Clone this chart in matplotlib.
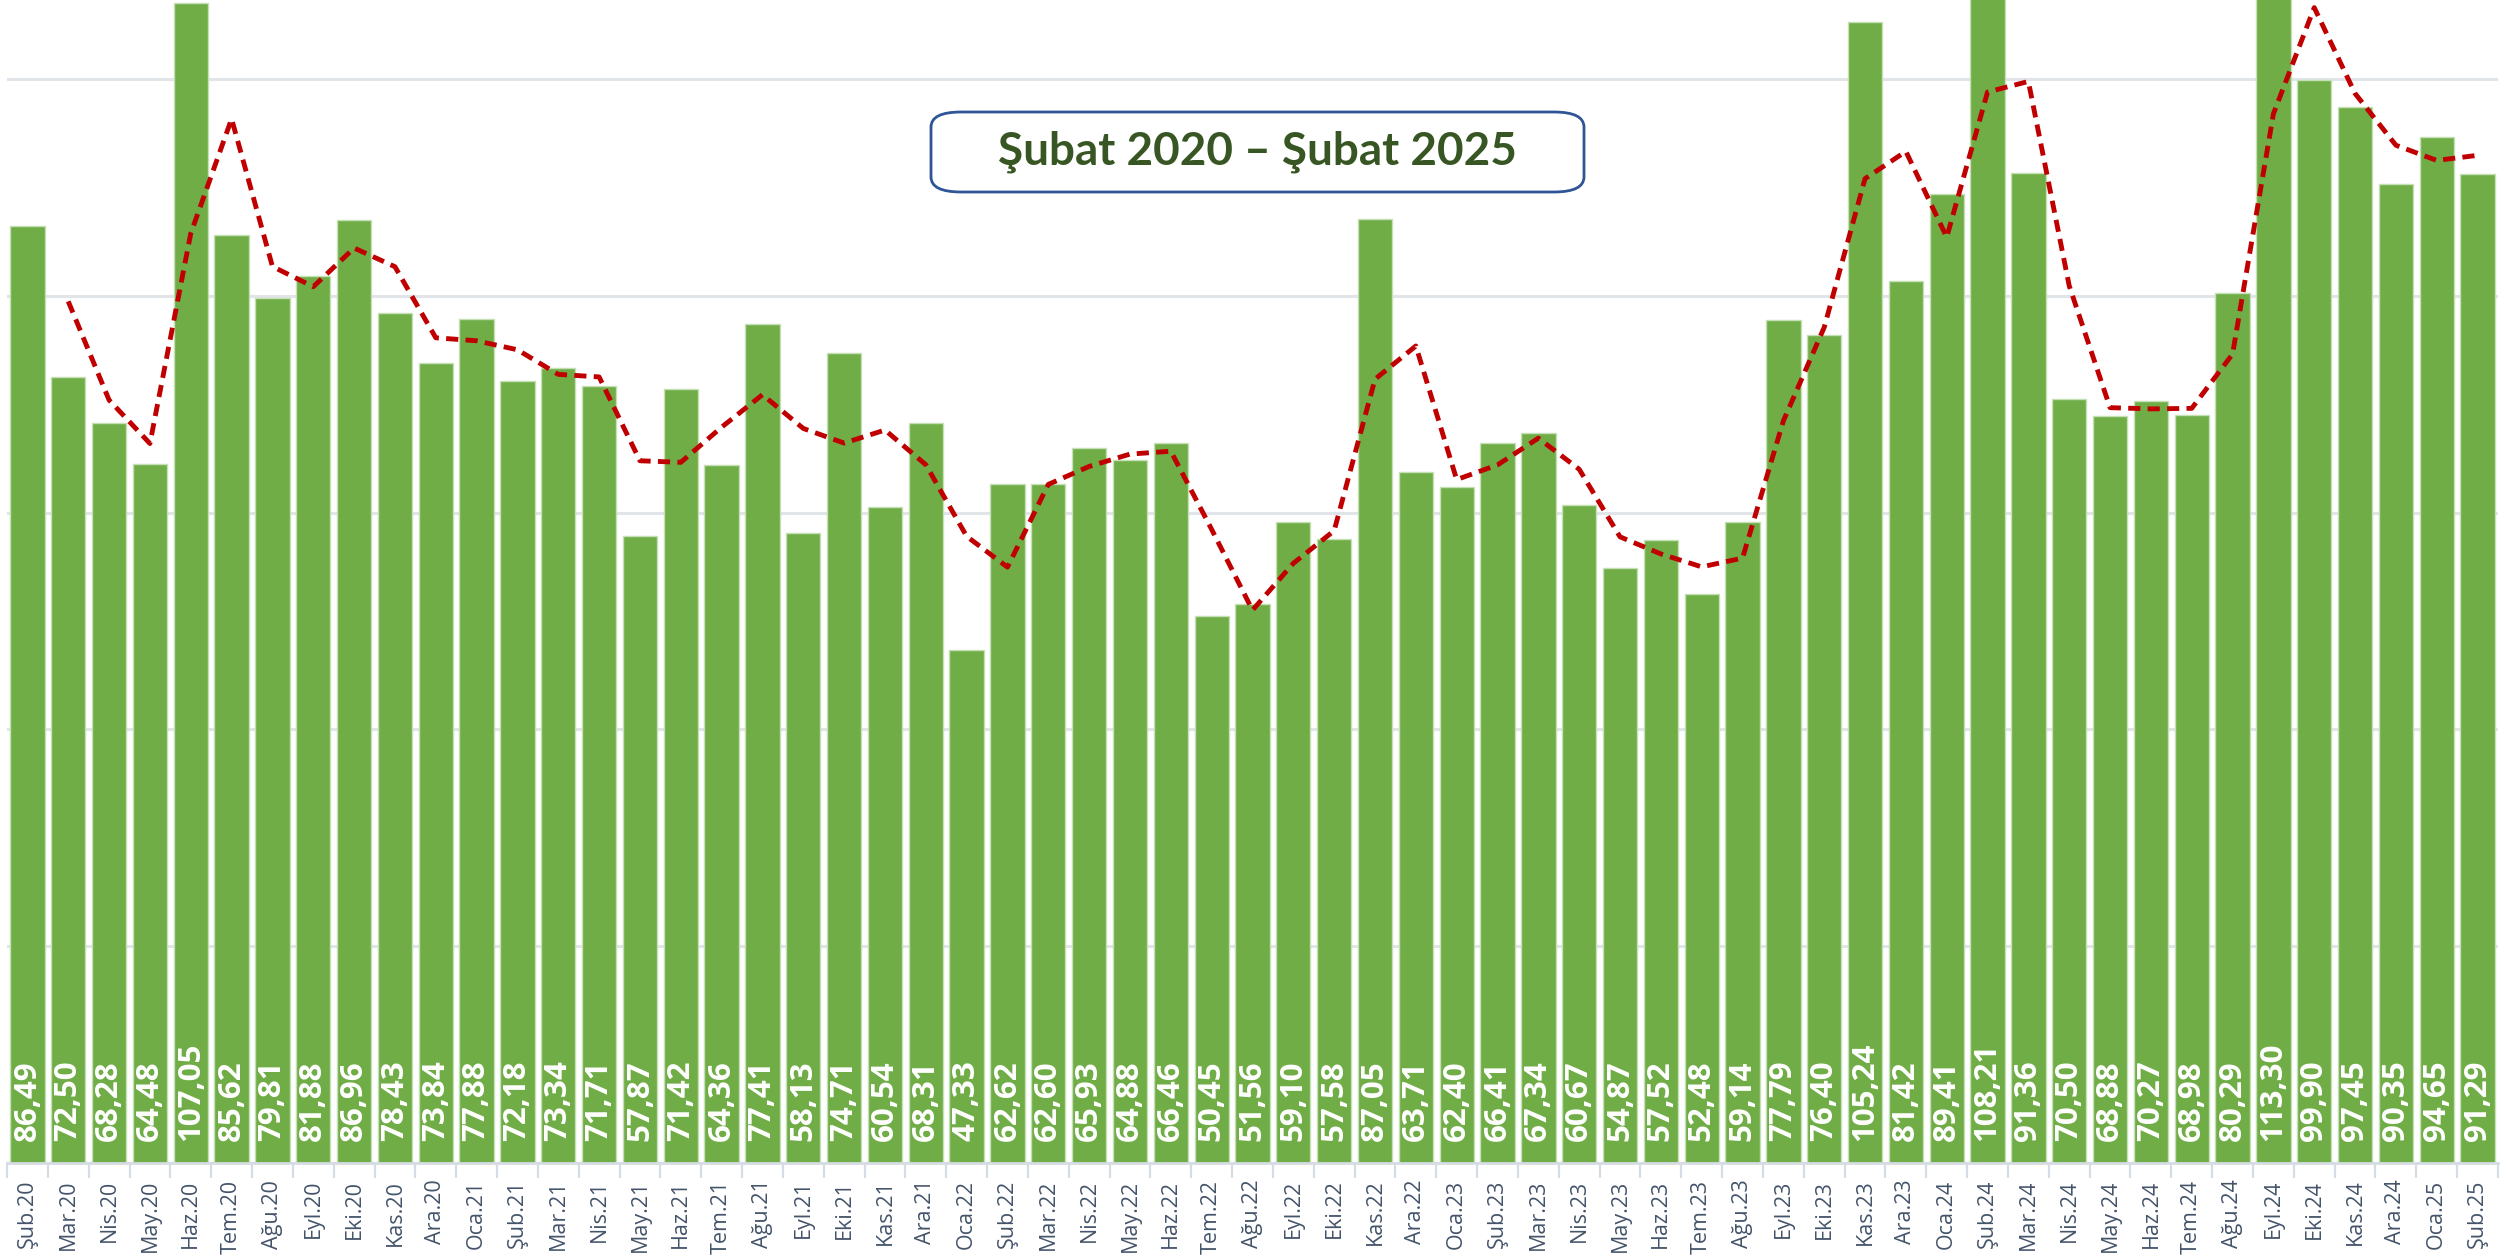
import numpy as np
import pandas as pd
import matplotlib.pyplot as plt
from matplotlib.patches import FancyBboxPatch

months = ["Şub.20", "Mar.20", "Nis.20", "May.20", "Haz.20", "Tem.20", "Ağu.20", "Eyl.20", "Eki.20", "Kas.20", "Ara.20",
          "Oca.21", "Şub.21", "Mar.21", "Nis.21", "May.21", "Haz.21", "Tem.21", "Ağu.21", "Eyl.21", "Eki.21", "Kas.21", "Ara.21",
          "Oca.22", "Şub.22", "Mar.22", "Nis.22", "May.22", "Haz.22", "Tem.22", "Ağu.22", "Eyl.22", "Eki.22", "Kas.22", "Ara.22",
          "Oca.23", "Şub.23", "Mar.23", "Nis.23", "May.23", "Haz.23", "Tem.23", "Ağu.23", "Eyl.23", "Eki.23", "Kas.23", "Ara.23",
          "Oca.24", "Şub.24", "Mar.24", "Nis.24", "May.24", "Haz.24", "Tem.24", "Ağu.24", "Eyl.24", "Eki.24", "Kas.24", "Ara.24",
          "Oca.25", "Şub.25"]
values = [86.49, 72.50, 68.28, 64.48, 107.05, 85.62, 79.81, 81.88, 86.96, 78.43, 73.84,
          77.88, 72.18, 73.34, 71.71, 57.87, 71.42, 64.36, 77.41, 58.13, 74.71, 60.54, 68.31,
          47.33, 62.62, 62.60, 65.93, 64.88, 66.46, 50.45, 51.56, 59.10, 57.58, 87.05, 63.71,
          62.40, 66.41, 67.34, 60.67, 54.87, 57.52, 52.48, 59.14, 77.79, 76.40, 105.24, 81.42,
          89.41, 108.21, 91.36, 70.50, 68.88, 70.27, 68.98, 80.29, 113.30, 99.90, 97.45, 90.35,
          94.65, 91.29]
title = "Şubat 2020 – Şubat 2025"

# 2-period moving average trendline (as in Excel)
trend = pd.Series(values).rolling(2).mean()

fig = plt.figure(figsize=(25.09, 12.57), dpi=100)
ax = fig.add_axes([7 / 2509, 1 - 1163 / 1257, 2491 / 2509, 1163 / 1257])

x = np.arange(len(values))
ax.bar(x, values, width=0.84, color="#70AD47", edgecolor="#C5E0B4", linewidth=1, zorder=2)
ax.plot(x, trend, color="#C00000", linestyle=(0, (2.5, 1.5)), linewidth=3.5, zorder=3)

for i, v in enumerate(values):
    ax.annotate(f"{v:.2f}".replace(".", ","), (i, 0), xytext=(0, 16), textcoords="offset points",
                rotation=90, ha="center", va="bottom", color="white", fontsize=22.5,
                fontfamily="Open Sans", fontweight="bold", zorder=4)

ax.set_xlim(-0.5, len(values) - 0.5)
ax.set_ylim(0, 107.3)
ax.set_yticks([0, 20, 40, 60, 80, 100])
ax.yaxis.grid(True, color="#E1E4E9", linewidth=2.2, zorder=0)
ax.set_axisbelow(True)
ax.tick_params(axis="y", left=False, labelleft=False)

ax.set_xticks(x)
ax.set_xticklabels(months, rotation=90, fontsize=15.5, color="#44546A", fontfamily="Open Sans")
ax.tick_params(axis="x", which="major", length=0, pad=12)
ax.set_xticks(np.arange(-0.5, len(values), 1), minor=True)
ax.tick_params(axis="x", which="minor", length=11, width=1.6, color="#D6DCE4")

for s in ["top", "right", "left"]:
    ax.spines[s].set_visible(False)
ax.spines["bottom"].set_color("#D6DCE4")
ax.spines["bottom"].set_linewidth(2)

box = FancyBboxPatch((931 / 2509, 1 - 192 / 1257), 653 / 2509, 80 / 1257,
                     boxstyle="round,pad=0,rounding_size=0.012", transform=fig.transFigure,
                     facecolor="white", edgecolor="#2F5597", linewidth=2, zorder=10)
fig.patches.append(box)
fig.text(1257 / 2509, 1 - 152 / 1257, title, ha="center", va="center", fontsize=33,
         fontweight="bold", color="#375623", fontfamily="Lato", zorder=11)

fig.savefig("out.png", dpi=100)
